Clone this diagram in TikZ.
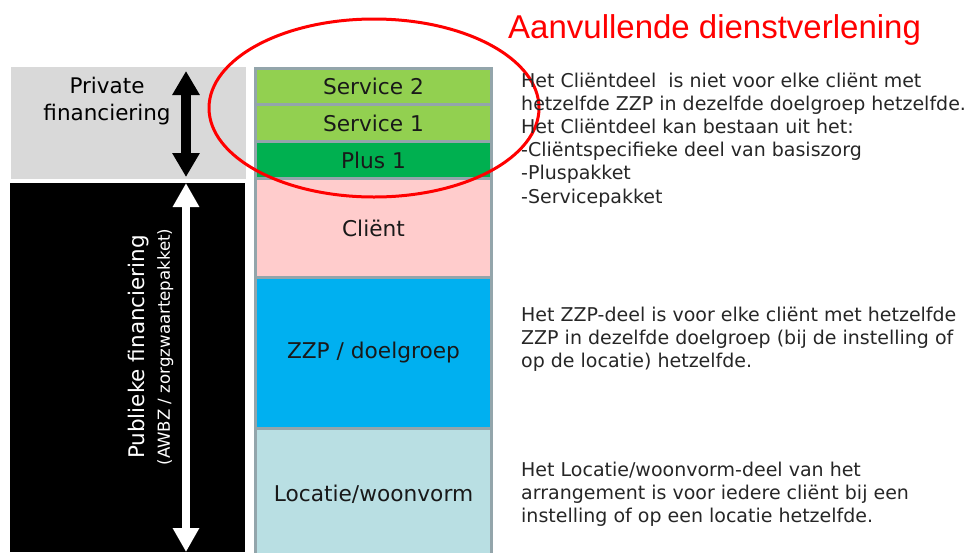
\documentclass[tikz,border=0pt]{standalone}
\usepackage{fontspec}
\setmainfont{DejaVu Sans}
\newfontfamily\titlefont{Liberation Sans}
\usetikzlibrary{positioning,arrows.meta}
\definecolor{privgray}{HTML}{D9D9D9}
\definecolor{layerrim}{HTML}{93A5AB}
\definecolor{servgreen}{HTML}{92D050}
\definecolor{plusgreen}{HTML}{00B050}
\definecolor{clientpink}{HTML}{FFCCCC}
\definecolor{zzpblue}{HTML}{00B0F0}
\definecolor{locblue}{HTML}{B9DFE3}
\begin{document}
\begin{tikzpicture}[x=1pt,y=-1pt,
  layer/.style={draw=layerrim, line width=3pt, outer sep=0pt, inner sep=0pt,
    minimum width=236pt, font=\fontsize{21.7}{26}\selectfont, text=black!90},
  uitleg/.style={anchor=base west, align=left, inner sep=0pt,
    font=\fontsize{19}{23.2}\selectfont, text=black!85}]
  \useasboundingbox (0,0) rectangle (973,552);
  % financing panels
  \fill [privgray] (11,67) rectangle (246,179);
  \fill [black] (10,183) rectangle (245,552);
  \node [anchor=base, align=center, inner sep=0pt, font=\fontsize{21.5}{27}\selectfont] (prive) at (107,120) {Private\\financiering};
  \node [rotate=90, align=center, inner sep=0pt, text=white, font=\fontsize{16.6}{25}\selectfont] (publiek) at (151,347)
    {{\fontsize{21.5}{25}\selectfont Publieke financiering}\\(AWBZ / zorgzwaartepakket)};
  \coordinate (privtop) at (186,71);
  \coordinate (privbot) at (186,177);
  \coordinate (pubtop) at (186,183);
  \coordinate (pubbot) at (186,552);
  \draw [black, line width=10pt, {Triangle[length=24pt,width=26pt]}-{Triangle[length=24pt,width=26pt]}] (privtop) -- (privbot);
  \draw [white, line width=8pt, {Triangle[length=24pt,width=25pt]}-{Triangle[length=24pt,width=25pt]}] (pubtop) -- (pubbot);
  % layers of the arrangement
  \node [layer, fill=servgreen, minimum height=36pt] (srv2) at (373.5,86.5) {Service 2};
  \node [layer, fill=servgreen, minimum height=37pt, below=0pt of srv2] (srv1) {Service 1};
  \node [layer, fill=plusgreen, minimum height=37pt, below=0pt of srv1] (plus) {Plus 1};
  \node [layer, fill=clientpink, minimum height=99pt, below=0pt of plus] (client) {Cliënt};
  \node [layer, fill=zzpblue, minimum height=150.5pt, below=0pt of client] (zzp) {ZZP / doelgroep};
  \node [layer, fill=locblue, minimum height=132pt, below=0pt of zzp] (locatie) {Locatie/woonvorm};
  % additional services
  \draw [red, line width=3pt] (374,108) ellipse [x radius=165, y radius=89];
  \node [anchor=base west, inner sep=0pt, text=red, font=\titlefont\fontsize{33}{40}\selectfont] (titel) at (508,38) {Aanvullende dienstverlening};
  % explanations (base = last line)
  \node [uitleg] (uitlegclient) at (521,203) {Het Cliëntdeel\ \ is niet voor elke cliënt met\\hetzelfde ZZP in dezelfde doelgroep hetzelfde.\\Het Cliëntdeel kan bestaan uit het:\\-Cliëntspecifieke deel van basiszorg\\-Pluspakket\\-Servicepakket};
  \node [uitleg] (uitlegzzp) at (521,367.4) {Het ZZP-deel is voor elke cliënt met hetzelfde\\ZZP in dezelfde doelgroep (bij de instelling of\\op de locatie) hetzelfde.};
  \node [uitleg] (uitleglocatie) at (521,522.4) {Het Locatie/woonvorm-deel van het\\arrangement is voor iedere cliënt bij een\\instelling of op een locatie hetzelfde.};
\end{tikzpicture}
\end{document}
